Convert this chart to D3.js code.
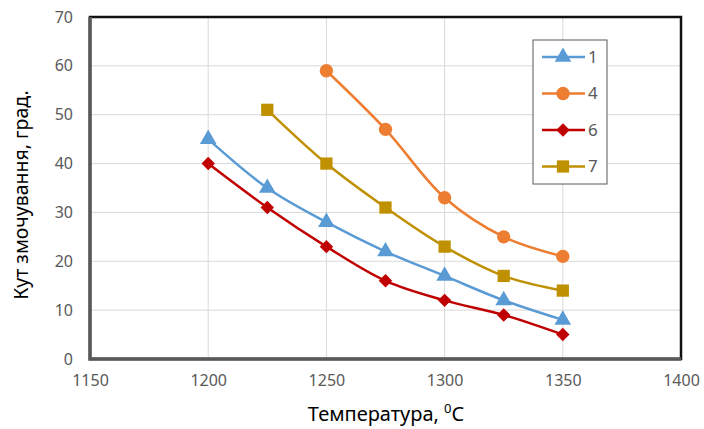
<!DOCTYPE html>
<html>
<head>
<meta charset="utf-8">
<script src="https://cdn.jsdelivr.net/npm/d3@7"></script>
<style>
  body { margin: 0; background: #fff; }
  svg { font-family: 'Noto Sans', 'Open Sans', sans-serif; }
</style>
</head>
<body>
<svg id="chart" width="704" height="429"></svg>
<script>
const xTicks = [1150, 1200, 1250, 1300, 1350, 1400];
const yTicks = [0, 10, 20, 30, 40, 50, 60, 70];

const temps1 = [1200, 1225, 1250, 1275, 1300, 1325, 1350];
const angles1 = [45, 35, 28, 22, 17, 12, 8];
const temps4 = [1250, 1275, 1300, 1325, 1350];
const angles4 = [59, 47, 33, 25, 21];
const temps6 = [1200, 1225, 1250, 1275, 1300, 1325, 1350];
const angles6 = [40, 31, 23, 16, 12, 9, 5];
const temps7 = [1225, 1250, 1275, 1300, 1325, 1350];
const angles7 = [51, 40, 31, 23, 17, 14];

const seriesNames = ['1', '4', '6', '7'];

const series = [
  { name: seriesNames[0], xs: temps1, ys: angles1, color: '#5B9BD5', symbol: d3.symbolTriangle, size: 120, rot: 0 },
  { name: seriesNames[1], xs: temps4, ys: angles4, color: '#ED7D31', symbol: d3.symbolCircle, size: 140, rot: 0 },
  { name: seriesNames[2], xs: temps6, ys: angles6, color: '#C00000', symbol: d3.symbolSquare, size: 90, rot: 45 },
  { name: seriesNames[3], xs: temps7, ys: angles7, color: '#BF9000', symbol: d3.symbolSquare, size: 150, rot: 0 }
];

const margin = { top: 17, right: 23, bottom: 70, left: 90 },
  width = 704,
  height = 429;

const svg = d3.select('#chart');

const x = d3.scaleLinear()
  .domain([1150, 1400])
  .range([margin.left, width - margin.right]);

const y = d3.scaleLinear()
  .domain([0, 70])
  .range([height - margin.bottom, margin.top]);

// gridlines
svg.append('g')
  .selectAll('line')
  .data(yTicks)
  .join('line')
  .attr('x1', margin.left).attr('x2', width - margin.right)
  .attr('y1', d => y(d)).attr('y2', d => y(d))
  .attr('stroke', '#d9d9d9').attr('stroke-width', 1);

svg.append('g')
  .selectAll('line')
  .data(xTicks)
  .join('line')
  .attr('y1', margin.top).attr('y2', height - margin.bottom)
  .attr('x1', d => x(d)).attr('x2', d => x(d))
  .attr('stroke', '#d9d9d9').attr('stroke-width', 1);

// axes labels
svg.append('g')
  .attr('transform', `translate(${margin.left},0)`)
  .call(d3.axisLeft(y).tickValues(yTicks).tickSize(0).tickPadding(17))
  .call(g => g.select('.domain').remove())
  .selectAll('text')
  .attr('fill', '#595959')
  .attr('font-size', 16)
  .attr('font-family', "'Noto Sans', sans-serif");

svg.append('g')
  .attr('transform', `translate(0,${height - margin.bottom})`)
  .call(d3.axisBottom(x).tickValues(xTicks).tickSize(0).tickPadding(16).tickFormat(d3.format('d')))
  .call(g => g.select('.domain').remove())
  .selectAll('text')
  .attr('fill', '#595959')
  .attr('font-size', 16)
  .attr('font-family', "'Noto Sans', sans-serif");

// plot border
svg.append('rect')
  .attr('x', margin.left).attr('y', margin.top)
  .attr('width', width - margin.right - margin.left)
  .attr('height', height - margin.bottom - margin.top)
  .attr('fill', 'none')
  .attr('stroke', '#111').attr('stroke-width', 2.5);

svg.append('path')
  .attr('d', `M${margin.left},${margin.top}V${height - margin.bottom}H${width - margin.right}`)
  .attr('fill', 'none')
  .attr('stroke', '#595959').attr('stroke-width', 3.5);

// lines
const line = d3.line()
  .curve(d3.curveCatmullRom.alpha(0.5))
  .x(d => x(d[0]))
  .y(d => y(d[1]));

series.forEach(s => {
  const pts = s.xs.map((t, i) => [t, s.ys[i]]);
  svg.append('path')
    .datum(pts)
    .attr('fill', 'none')
    .attr('stroke', s.color)
    .attr('stroke-width', 2.5)
    .attr('d', line);
  svg.append('g')
    .selectAll('path')
    .data(pts)
    .join('path')
    .attr('transform', d => `translate(${x(d[0])},${y(d[1])}) rotate(${s.rot})`)
    .attr('d', d3.symbol(s.symbol, s.size))
    .attr('fill', s.color);
});

// legend
const legend = svg.append('g').attr('transform', 'translate(533,40)');
legend.append('rect')
  .attr('width', 74).attr('height', 144)
  .attr('fill', '#fff')
  .attr('stroke', '#595959').attr('stroke-width', 1);

series.forEach((s, i) => {
  const g = legend.append('g').attr('transform', `translate(0,${17 + i * 36.5})`);
  g.append('line')
    .attr('x1', 9).attr('x2', 52)
    .attr('stroke', s.color).attr('stroke-width', 2.5);
  g.append('path')
    .attr('transform', `translate(30,0) rotate(${s.rot})`)
    .attr('d', d3.symbol(s.symbol, s.size))
    .attr('fill', s.color);
  g.append('text')
    .attr('x', 55).attr('dy', '0.35em')
    .attr('fill', '#595959')
    .attr('font-size', 17)
    .text(s.name);
});

// axis titles
svg.append('text')
  .attr('x', 386).attr('y', 421)
  .attr('text-anchor', 'middle')
  .attr('font-size', 20)
  .attr('fill', '#000')
  .text('Температура, ')
  .append('tspan')
  .attr('font-size', 13)
  .attr('dy', -8)
  .text('0')
  .append('tspan')
  .attr('font-size', 20)
  .attr('dy', 8)
  .text('C');

svg.append('text')
  .attr('transform', `translate(28,${(margin.top + height - margin.bottom) / 2 + 7}) rotate(-90)`)
  .attr('text-anchor', 'middle')
  .attr('font-size', 19.5)
  .attr('fill', '#000')
  .text('Кут змочування, град.');
</script>
</body>
</html>
